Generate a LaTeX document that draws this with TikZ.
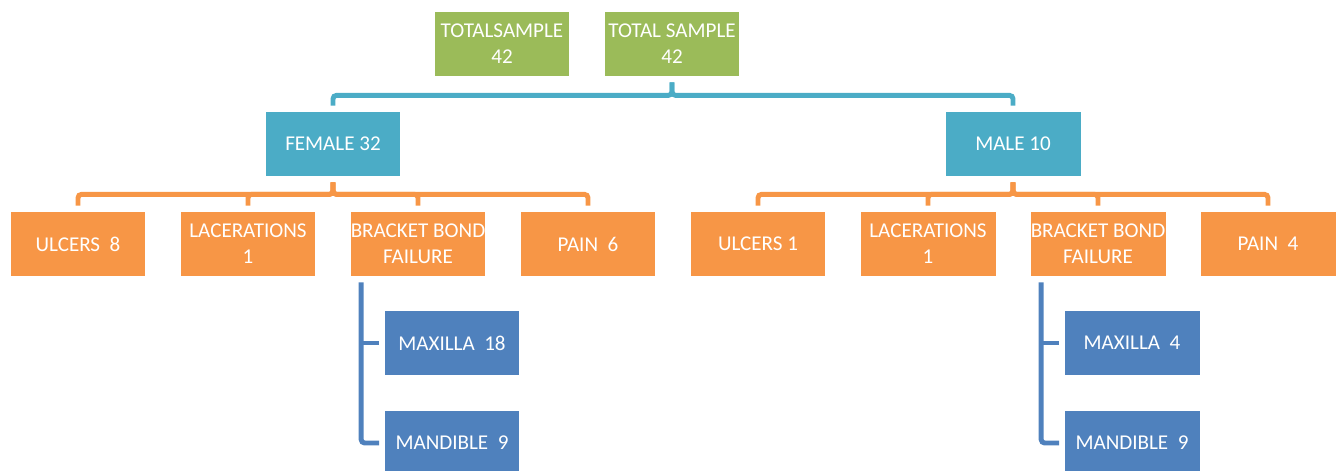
\documentclass[tikz,border=0pt]{standalone}
\usepackage{fontspec}
\setmainfont{Carlito}

\definecolor{sumgreen}{HTML}{9BBB59}
\definecolor{sexteal}{HTML}{4BACC6}
\definecolor{findorange}{HTML}{F79646}
\definecolor{jawblue}{HTML}{4F81BD}

\tikzset{
  box/.style={fill=#1, text=white, minimum width=2.7cm, minimum height=1.28cm,
    inner sep=0pt, align=center, font=\fontsize{12}{14.7}\selectfont},
  link/.style={draw=#1, line width=2.8pt, rounded corners=2pt,
    shorten <=0.12cm, shorten >=0.12cm},
}

\begin{document}
\begin{tikzpicture}[x=0.02cm, y=-0.02cm]

  \useasboundingbox (0,0) rectangle (1338,470);

  % totals
  \node[box=sumgreen] (tot1) at (502,44) {TOTALSAMPLE\\42};
  \node[box=sumgreen] (tot2) at (672,44) {TOTAL SAMPLE\\42};

  % sexes
  \node[box=sexteal] (fem) at (333,144) {FEMALE 32};
  \node[box=sexteal] (mal) at (1013,144) {MALE 10};

  % findings, female side
  \node[box=findorange] (fulc) at (78,244) {ULCERS~~8};
  \node[box=findorange] (flac) at (248,244) {LACERATIONS\\1};
  \node[box=findorange] (fbbf) at (418,244) {BRACKET BOND\\FAILURE};
  \node[box=findorange] (fpai) at (588,244) {PAIN~~6};

  % findings, male side
  \node[box=findorange] (mulc) at (758,244) {ULCERS~1};
  \node[box=findorange] (mlac) at (928,244) {LACERATIONS\\1};
  \node[box=findorange] (mbbf) at (1098,244) {BRACKET BOND\\FAILURE};
  \node[box=findorange] (mpai) at (1268,244) {PAIN~~4};

  % jaws
  \node[box=jawblue] (fmax) at (452,343) {MAXILLA~~18};
  \node[box=jawblue] (fmnd) at (452,443) {MANDIBLE~~9};
  \node[box=jawblue] (mmax) at (1132,343) {MAXILLA~~4};
  \node[box=jawblue] (mmnd) at (1132,443) {MANDIBLE~~9};

  \foreach \c in {fem,mal}
    \draw[link=sexteal] (tot2.south) -- ++(0,19) -| (\c.north);

  \foreach \c in {fulc,flac,fbbf,fpai}
    \draw[link=findorange] (fem.south) -- ++(0,18) -| (\c.north);
  \foreach \c in {mulc,mlac,mbbf,mpai}
    \draw[link=findorange] (mal.south) -- ++(0,18) -| (\c.north);

  \foreach \p/\a/\b in {fbbf/fmax/fmnd, mbbf/mmax/mmnd}
  {
    \draw[link=jawblue, shorten >=0.1cm] ([xshift=0.22cm]\p.south west) |- (\b.west);
    \draw[link=jawblue, shorten <=0.1cm, shorten >=0pt] (\a.west) -- ++(-23,0);
  }

\end{tikzpicture}
\end{document}
